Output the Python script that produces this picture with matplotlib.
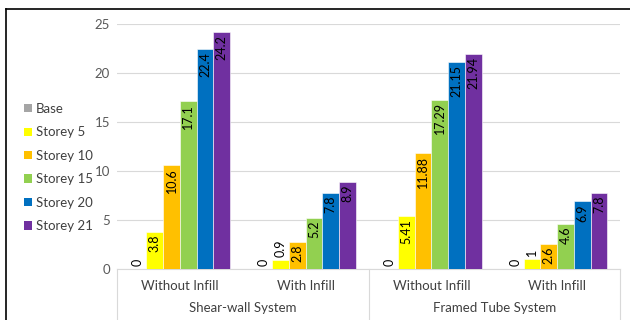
import matplotlib.pyplot as plt
import numpy as np
from matplotlib.patches import Patch
from matplotlib.lines import Line2D

plt.rcParams['font.family'] = ['Lato', 'DejaVu Sans']

# data
kategori = ['Without Infill', 'With Infill', 'Without Infill', 'With Infill']
grup = ['Shear-wall System', 'Framed Tube System']
seri = ['Base', 'Storey 5', 'Storey 10', 'Storey 15', 'Storey 20', 'Storey 21']
warna = ['#A5A5A5', '#FFFF00', '#FFC000', '#92D050', '#0070C0', '#7030A0']

base = [0, 0, 0, 0]
storey5 = [3.8, 0.9, 5.41, 1]
storey10 = [10.6, 2.8, 11.88, 2.6]
storey15 = [17.1, 5.2, 17.29, 4.6]
storey20 = [22.4, 7.8, 21.15, 6.9]
storey21 = [24.2, 8.9, 21.94, 7.8]
label_angka = [
    ['0', '0', '0', '0'],
    ['3.8', '0.9', '5.41', '1'],
    ['10.6', '2.8', '11.88', '2.6'],
    ['17.1', '5.2', '17.29', '4.6'],
    ['22.4', '7.8', '21.15', '6.9'],
    ['24.2', '8.9', '21.94', '7.8'],
]
semua = [base, storey5, storey10, storey15, storey20, storey21]

fig = plt.figure(figsize=(6.3, 3.2), dpi=100)
ax = fig.add_axes([117 / 630, 1 - 269 / 320, 503 / 630, 245 / 320])

x = np.arange(len(kategori))
lebar = 0.133
for i, nilai in enumerate(semua):
    pos = x + (i - 2.5) * lebar
    ax.bar(pos, nilai, width=lebar, color=warna[i], edgecolor='white', linewidth=0.4, zorder=3)
    for p, v, t in zip(pos, nilai, label_angka[i]):
        if v >= 2:
            ax.text(p, v - 0.3, t, rotation=90, ha='center', va='top', fontsize=9, color='black', zorder=4)
        else:
            ax.text(p, v + 0.3, t, rotation=90, ha='center', va='bottom', fontsize=9, color='black', zorder=4)

ax.set_xlim(-0.5, 3.5)
ax.set_ylim(0, 25)
ax.set_yticks([0, 5, 10, 15, 20, 25])
ax.tick_params(axis='y', length=0, labelsize=9.5, labelcolor='#595959', pad=5)
ax.set_xticks([])
ax.grid(axis='y', color='#D9D9D9', linewidth=0.8, zorder=0)
for s in ['top', 'right', 'left']:
    ax.spines[s].set_visible(False)
ax.spines['bottom'].set_color('#D9D9D9')

# label kategori dua tingkat
for xi, k in zip(x, kategori):
    ax.text(xi, -1.7, k, ha='center', va='center', fontsize=9.5, color='#404040', clip_on=False)
for gi, g in enumerate(grup):
    ax.text(gi * 2 + 0.5, -4.0, g, ha='center', va='center', fontsize=9.5, color='#404040', clip_on=False)
for xs in [-0.5, 1.5, 3.5]:
    ax.plot([xs, xs], [0, -5.1], color='#D9D9D9', linewidth=0.8, clip_on=False)

# legenda
handles = [Patch(facecolor=c, edgecolor='none') for c in warna]
fig.legend(handles, seri, loc='upper left', bbox_to_anchor=(12 / 630, 1 - 91 / 320),
           frameon=False, fontsize=9.5, handlelength=0.6, handleheight=0.6,
           handletextpad=0.3, labelspacing=0.87, labelcolor='#404040')

# bingkai
fig.add_artist(Line2D([6 / 630, 1], [1 - 9 / 320, 1 - 9 / 320], color='black', linewidth=1.2))
fig.add_artist(Line2D([6 / 630, 6 / 630], [0, 1 - 9 / 320], color='black', linewidth=1.2))

fig.savefig('out.png', dpi=100)
